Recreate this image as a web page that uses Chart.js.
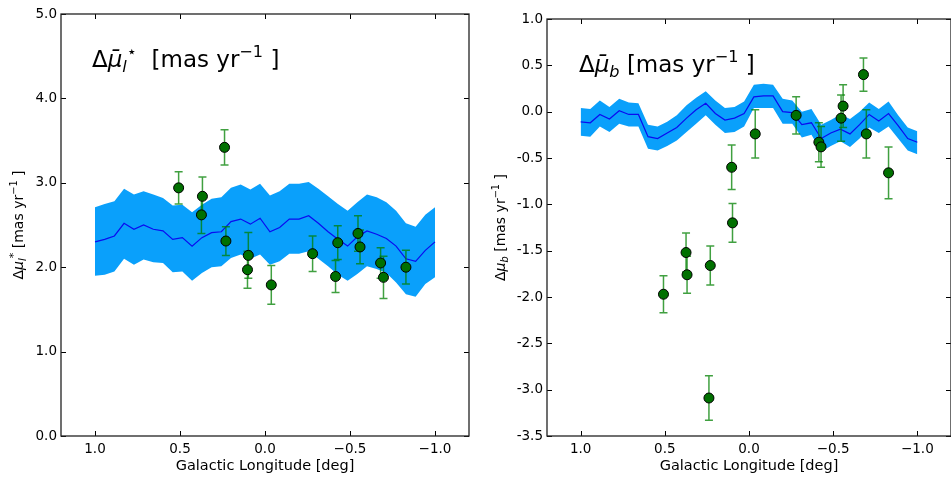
<!DOCTYPE html>
<html>
<head>
<meta charset="utf-8">
<script src="https://cdn.jsdelivr.net/npm/chart.js@4.4.0/dist/chart.umd.min.js"></script>
<style>
  html, body { margin: 0; padding: 0; background: #fff; overflow: hidden; }
  #wrap { position: relative; width: 951px; height: 477px; overflow: hidden; }
  canvas { position: absolute; top: 0; }
  #leftChart { left: 0; }
  #rightChart { left: 480px; }
</style>
</head>
<body>
<div id="wrap">
  <canvas id="leftChart" width="480" height="477"></canvas>
  <canvas id="rightChart" width="477" height="477"></canvas>
</div>
<script>
// model grid in galactic longitude (deg)
const modelLon = [1.0, 0.943, 0.886, 0.829, 0.771, 0.714, 0.657, 0.6, 0.543, 0.486, 0.429, 0.371,
  0.314, 0.257, 0.2, 0.143, 0.086, 0.029, -0.029, -0.086, -0.143, -0.2, -0.257, -0.314,
  -0.371, -0.429, -0.486, -0.543, -0.6, -0.657, -0.714, -0.771, -0.829, -0.886, -0.943, -1.0];

// model mu_l* : median and spread
const muLMedian = [2.30, 2.33, 2.37, 2.52, 2.45, 2.50, 2.45, 2.43, 2.33, 2.35, 2.25, 2.35,
  2.41, 2.42, 2.54, 2.57, 2.51, 2.58, 2.42, 2.47, 2.57, 2.57, 2.61, 2.52,
  2.42, 2.33, 2.25, 2.36, 2.43, 2.39, 2.34, 2.25, 2.10, 2.07, 2.20, 2.30];
const muLUpper = [2.71, 2.75, 2.78, 2.93, 2.86, 2.90, 2.86, 2.82, 2.73, 2.74, 2.65, 2.74,
  2.81, 2.83, 2.94, 2.98, 2.92, 2.99, 2.85, 2.90, 2.99, 2.99, 3.01, 2.93,
  2.84, 2.75, 2.67, 2.77, 2.86, 2.83, 2.77, 2.67, 2.52, 2.48, 2.62, 2.71];
const muLLower = [1.90, 1.91, 1.95, 2.10, 2.03, 2.09, 2.06, 2.05, 1.94, 1.95, 1.84, 1.93,
  2.00, 2.01, 2.11, 2.15, 2.10, 2.15, 2.03, 2.07, 2.16, 2.16, 2.19, 2.10,
  2.01, 1.91, 1.84, 1.92, 2.01, 1.98, 1.93, 1.82, 1.68, 1.65, 1.80, 1.88];

// model mu_b : median and spread
const muBMedian = [-0.11, -0.12, -0.03, -0.08, 0.01, -0.03, -0.03, -0.27, -0.29, -0.23, -0.17, -0.07,
  0.02, 0.09, -0.02, -0.09, -0.07, -0.02, 0.16, 0.17, 0.17, 0.00, -0.01, -0.14,
  -0.12, -0.29, -0.23, -0.19, -0.24, -0.14, -0.03, -0.10, -0.02, -0.15, -0.29, -0.33];
const muBUpper = [0.04, 0.03, 0.12, 0.05, 0.14, 0.10, 0.09, -0.14, -0.16, -0.11, -0.04, 0.07,
  0.15, 0.22, 0.12, 0.04, 0.05, 0.11, 0.29, 0.30, 0.29, 0.14, 0.12, 0.00,
  0.03, -0.14, -0.09, -0.03, -0.08, 0.00, 0.10, 0.03, 0.11, -0.04, -0.17, -0.21];
const muBLower = [-0.26, -0.27, -0.16, -0.22, -0.13, -0.16, -0.16, -0.40, -0.42, -0.37, -0.31, -0.22,
  -0.13, -0.04, -0.14, -0.23, -0.22, -0.16, 0.04, 0.04, 0.04, -0.13, -0.13, -0.28,
  -0.25, -0.43, -0.37, -0.32, -0.38, -0.29, -0.17, -0.23, -0.16, -0.29, -0.42, -0.46];

// observed stars
const starLon = [0.508, 0.374, 0.368, 0.238, 0.230, 0.103, 0.098, -0.037,
  -0.280, -0.415, -0.428, -0.547, -0.559, -0.680, -0.697, -0.829];
const starMuL = [2.94, 2.62, 2.84, 3.42, 2.31, 1.97, 2.14, 1.79,
  2.16, 1.89, 2.29, 2.40, 2.24, 2.05, 1.88, 2.00];
const starMuLErr = [0.19, 0.22, 0.23, 0.21, 0.17, 0.22, 0.27, 0.23,
  0.21, 0.19, 0.20, 0.21, 0.20, 0.18, 0.25, 0.20];
const starMuB = [-1.97, -1.52, -1.76, -3.09, -1.66, -0.60, -1.20, -0.24,
  -0.04, -0.33, -0.38, -0.07, 0.06, 0.40, -0.24, -0.66];
const starMuBErr = [0.20, 0.21, 0.20, 0.24, 0.21, 0.24, 0.21, 0.26,
  0.20, 0.21, 0.22, 0.25, 0.23, 0.18, 0.26, 0.28];

// tick labels
const lonTicks = [1.0, 0.5, 0.0, -0.5, -1.0];
const muLTicks = [0.0, 1.0, 2.0, 3.0, 4.0, 5.0];
const muBTicks = [1.0, 0.5, 0.0, -0.5, -1.0, -1.5, -2.0, -2.5, -3.0, -3.5];

const FONT = "'DejaVu Sans', sans-serif";
const BAND = '#0aa0fb';
const POINT = '#007000';

function drawRich(ctx, parts, size, measureOnly) {
  // parts: [text, scale, rise (em), italic]
  let w = 0;
  parts.forEach(([t, s, rise, it]) => {
    ctx.font = (it ? 'oblique ' : '') + (size * s) + 'px ' + FONT;
    const tw = ctx.measureText(t).width;
    if (!measureOnly) ctx.fillText(t, w, -rise * size);
    w += tw;
  });
  return w;
}

const panelDecor = {
  id: 'panelDecor',
  beforeDatasetDraw(chart, args, opts) {
    if (args.index !== 3) return;
    const ctx = chart.ctx;
    const xs = chart.scales.x, ys = chart.scales.y;
    ctx.save();
    ctx.strokeStyle = 'rgba(0,128,0,0.75)';
    ctx.lineWidth = 1.5;
    opts.lon.forEach((lon, i) => {
      const px = xs.getPixelForValue(lon);
      const top = ys.getPixelForValue(opts.val[i] + opts.err[i]);
      const bot = ys.getPixelForValue(opts.val[i] - opts.err[i]);
      ctx.beginPath();
      ctx.moveTo(px, top); ctx.lineTo(px, bot);
      ctx.moveTo(px - 4, top); ctx.lineTo(px + 4, top);
      ctx.moveTo(px - 4, bot); ctx.lineTo(px + 4, bot);
      ctx.stroke();
    });
    ctx.restore();
  },
  afterDraw(chart, args, opts) {
    const ctx = chart.ctx;
    const a = chart.chartArea;
    const xs = chart.scales.x, ys = chart.scales.y;
    ctx.save();
    // inward ticks on all four sides
    ctx.strokeStyle = '#000';
    ctx.lineWidth = 1;
    ctx.beginPath();
    xs.ticks.forEach(t => {
      const px = Math.round(xs.getPixelForValue(t.value)) + 0.5;
      ctx.moveTo(px, a.bottom); ctx.lineTo(px, a.bottom - 5);
      ctx.moveTo(px, a.top); ctx.lineTo(px, a.top + 5);
    });
    ys.ticks.forEach(t => {
      const py = Math.round(ys.getPixelForValue(t.value)) + 0.5;
      ctx.moveTo(a.left, py); ctx.lineTo(a.left + 5, py);
      ctx.moveTo(a.right, py); ctx.lineTo(a.right - 5, py);
    });
    ctx.stroke();
    // frame
    ctx.strokeStyle = '#222';
    ctx.lineWidth = 1.3;
    ctx.strokeRect(a.left, a.top, a.right - a.left, a.bottom - a.top);

    ctx.fillStyle = '#000';
    ctx.textBaseline = 'alphabetic';
    // panel title inside the axes
    ctx.save();
    ctx.translate(a.left + opts.titleX, a.top + 53);
    drawRich(ctx, opts.title, 23);
    ctx.restore();
    // y axis label, rotated
    ctx.save();
    const yw = drawRich(ctx, opts.ylabel, 14, true);
    ctx.translate(a.left - opts.ylabelGap, (a.top + a.bottom) / 2);
    ctx.rotate(-Math.PI / 2);
    ctx.translate(-yw / 2, 0);
    drawRich(ctx, opts.ylabel, 14);
    ctx.restore();
    // x axis label
    ctx.font = '14.5px ' + FONT;
    ctx.textAlign = 'center';
    ctx.fillText('Galactic Longitude [deg]', (a.left + a.right) / 2, a.bottom + 34);
    ctx.restore();
  }
};

function pairs(xs, ys) {
  return xs.map((x, i) => ({ x: x, y: ys[i] }));
}

function makePanel(id, cfg) {
  const ctx = document.getElementById(id).getContext('2d');
  return new Chart(ctx, {
    type: 'line',
    data: {
      datasets: [
        { data: pairs(modelLon, cfg.upper), borderWidth: 0, pointRadius: 0,
          backgroundColor: BAND, fill: '+1', order: 4 },
        { data: pairs(modelLon, cfg.lower), borderWidth: 0, pointRadius: 0,
          backgroundColor: BAND, fill: false, order: 3 },
        { data: pairs(modelLon, cfg.median), borderColor: '#0b0bf0', borderWidth: 1.2,
          pointRadius: 0, fill: false, order: 2 },
        { data: pairs(starLon, cfg.stars), showLine: false, pointRadius: 5,
          pointBackgroundColor: POINT, pointBorderColor: '#000', pointBorderWidth: 1,
          order: 1 }
      ]
    },
    options: {
      responsive: false,
      animation: false,
      events: [],
      layout: { padding: cfg.padding },
      plugins: {
        legend: { display: false },
        tooltip: { enabled: false },
        panelDecor: {
          lon: starLon, val: cfg.stars, err: cfg.errs,
          title: cfg.title, titleX: cfg.titleX,
          ylabel: cfg.ylabel, ylabelGap: cfg.ylabelGap
        }
      },
      scales: {
        x: {
          type: 'linear', min: -1.2, max: 1.2, reverse: true,
          afterBuildTicks: s => { s.ticks = lonTicks.map(v => ({ value: v })); },
          afterFit: s => { s.height = 41; },
          grid: { display: false, drawTicks: false },
          border: { display: false },
          ticks: {
            padding: 5, color: '#000',
            font: { family: FONT, size: 13.5 },
            callback: v => v.toFixed(1).replace('-', '\u2212')
          }
        },
        y: {
          type: 'linear', min: cfg.yMin, max: cfg.yMax,
          afterBuildTicks: s => { s.ticks = cfg.yTicks.map(v => ({ value: v })); },
          afterFit: s => { s.width = cfg.yWidth; },
          grid: { display: false, drawTicks: false },
          border: { display: false },
          ticks: {
            padding: 4, color: '#000',
            font: { family: FONT, size: 13.5 },
            callback: v => v.toFixed(1)
          }
        }
      }
    },
    plugins: [panelDecor]
  });
}

makePanel('leftChart', {
  upper: muLUpper, lower: muLLower, median: muLMedian,
  stars: starMuL, errs: starMuLErr,
  yMin: 0, yMax: 5, yTicks: muLTicks, yWidth: 61,
  padding: { top: 14, right: 11, left: 0, bottom: 0 },
  title: [['\u0394', 1, 0, false], ['\u03bc\u0304', 1, 0, true], ['l', 0.7, -0.22, true],
    ['\u22c6', 0.7, 0.42, false], ['  [mas yr', 1, 0, false], ['\u22121', 0.7, 0.42, false], [' ]', 1, 0, false]],
  titleX: 31,
  ylabel: [['\u0394', 1, 0, false], ['\u03bc', 1, 0, true], ['l', 0.7, -0.22, true],
    ['*', 0.8, 0.4, false], [' [mas yr', 1, 0, false], ['\u22121', 0.7, 0.42, false], [' ]', 1, 0, false]],
  ylabelGap: 38
});

makePanel('rightChart', {
  upper: muBUpper, lower: muBLower, median: muBMedian,
  stars: starMuB, errs: starMuBErr,
  yMin: -3.5, yMax: 1.0, yTicks: muBTicks, yWidth: 67,
  padding: { top: 19, right: 1, left: 0, bottom: 0 },
  title: [['\u0394', 1, 0, false], ['\u03bc\u0304', 1, 0, true], ['b', 0.7, -0.22, true],
    [' [mas yr', 1, 0, false], ['\u22121', 0.7, 0.42, false], [' ]', 1, 0, false]],
  titleX: 32,
  ylabel: [['\u0394', 1, 0, false], ['\u03bc', 1, 0, true], ['b', 0.7, -0.22, true],
    [' [mas yr', 1, 0, false], ['\u22121', 0.7, 0.42, false], [' ]', 1, 0, false]],
  ylabelGap: 42
});
</script>
</body>
</html>
